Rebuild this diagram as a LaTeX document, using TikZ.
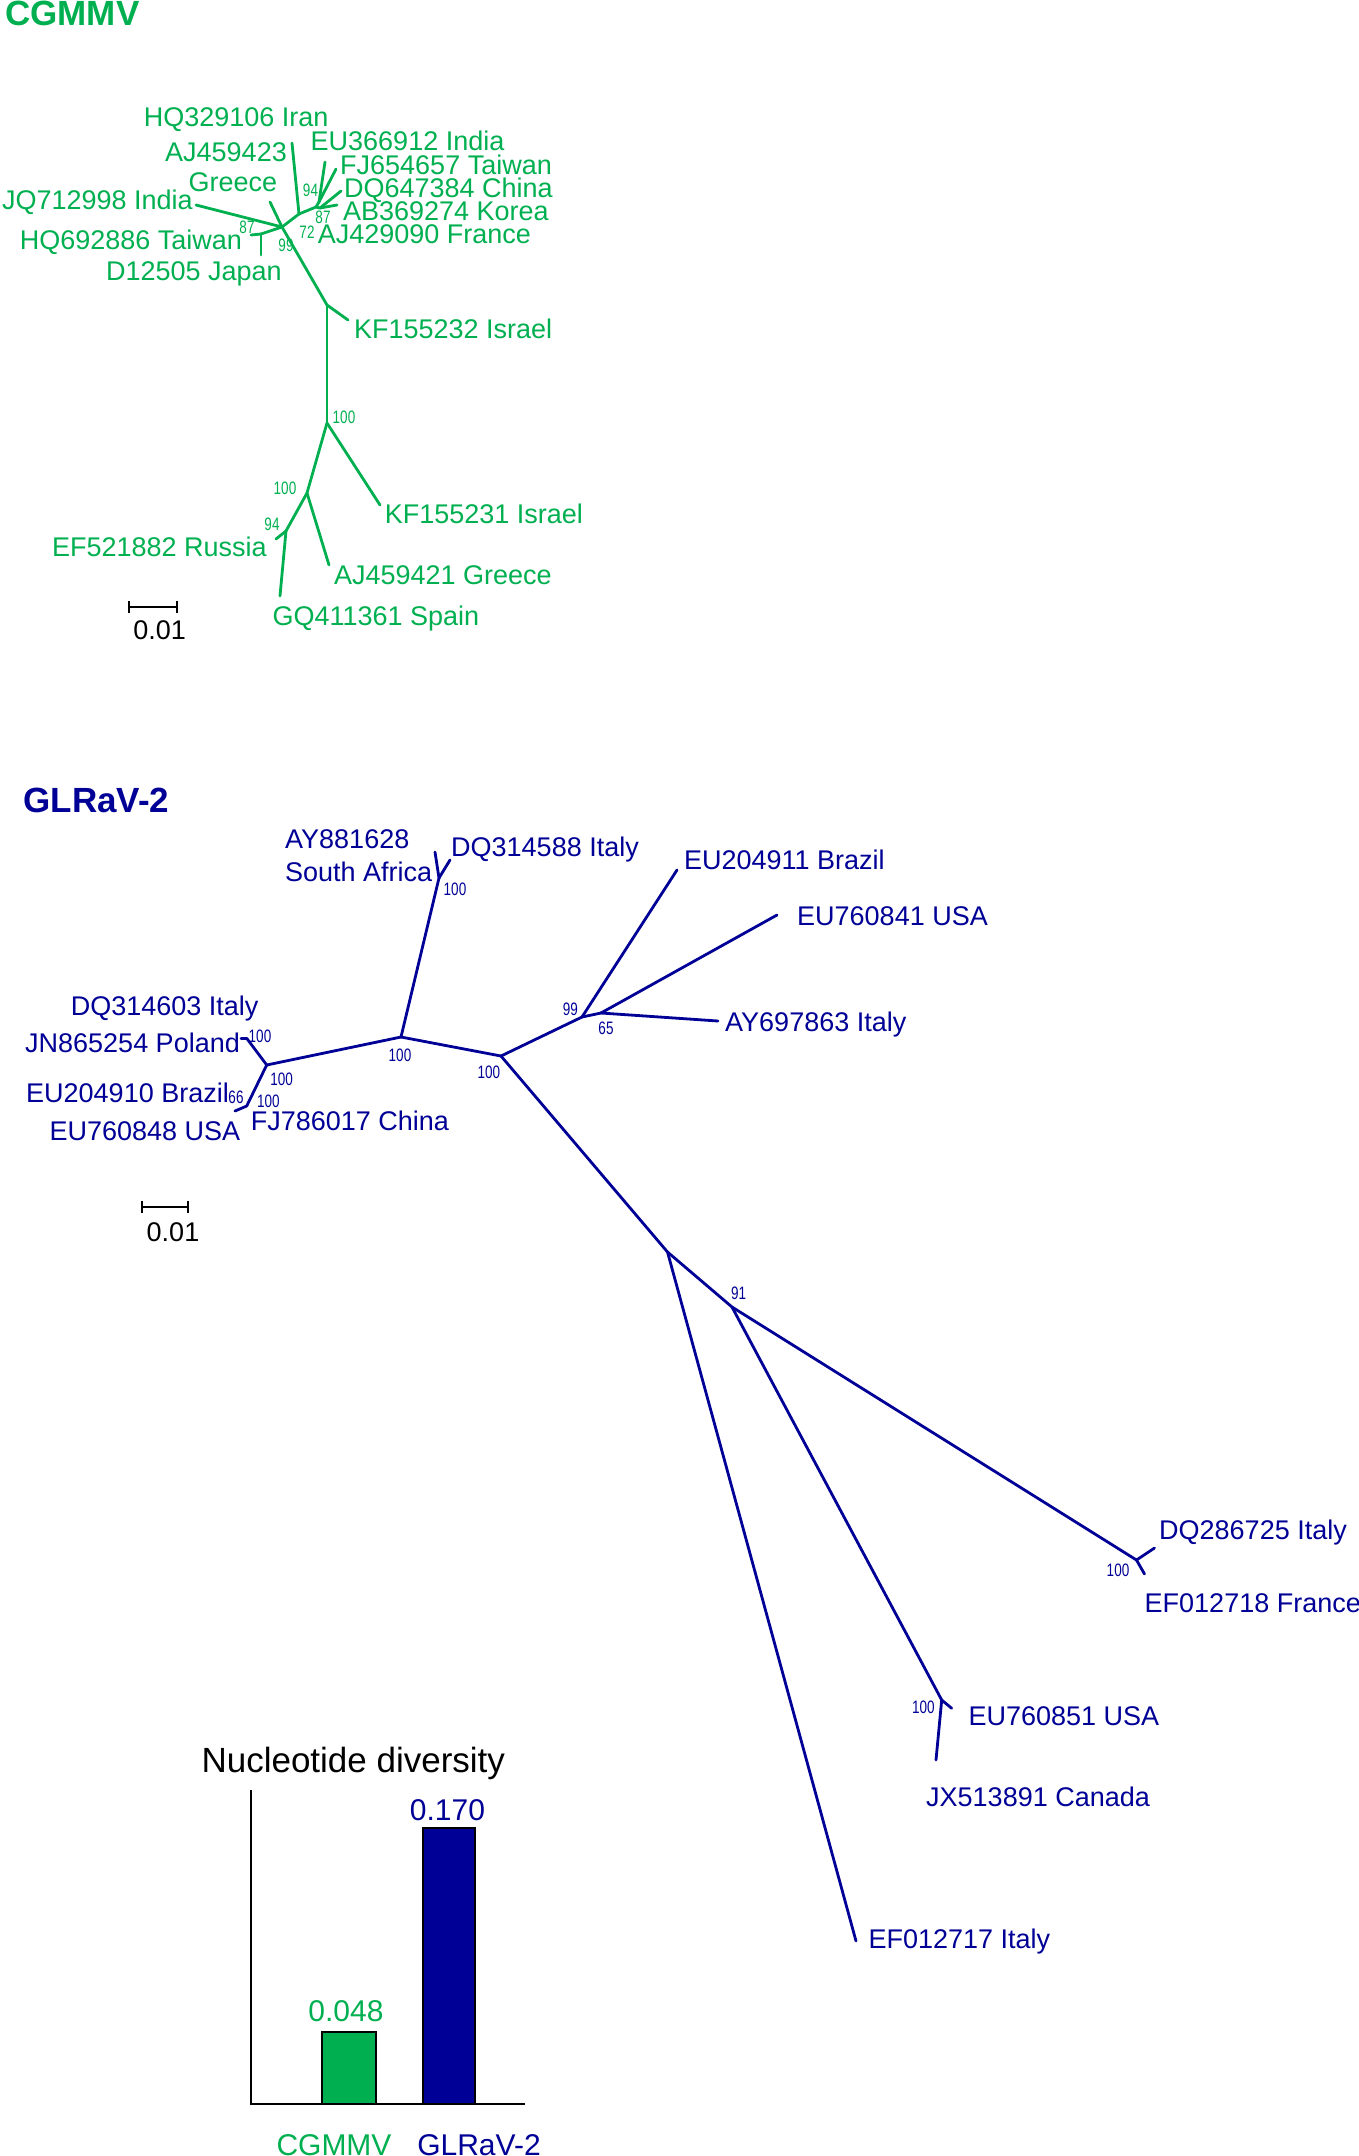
\documentclass[tikz,border=0pt]{standalone}
\usepackage{fontspec}
\setmainfont{Liberation Sans}
\usetikzlibrary{calc}
\definecolor{cg}{RGB}{0,176,80}
\definecolor{gl}{RGB}{0,0,150}
\newcommand\bsnum[1]{\scalebox{0.75}[1]{#1}}
\begin{document}
\begin{tikzpicture}[x=1pt,y=-1pt,
  br/.style={line width=2.8pt,line cap=round},
  lab/.style={anchor=west,inner sep=0pt,font=\fontsize{27}{32}\selectfont,text height=19.3pt,text depth=0pt},
  bs/.style={inner sep=0pt,font=\fontsize{18}{20}\selectfont,text height=12.9pt,text depth=0pt},
  ttl/.style={anchor=west,inner sep=0pt,font=\fontsize{35}{40}\selectfont\bfseries,text height=25pt,text depth=0pt},
  ctxt/.style={inner sep=0pt,font=\fontsize{30}{36}\selectfont,text height=21.5pt,text depth=0pt},
  sbar/.style={line width=2pt,black},
  barbox/.style={draw=black,line width=2.2pt}]
\useasboundingbox (0,0) rectangle (1358,2156);

%% ---------------- CGMMV ----------------
\node[ttl,text=cg] (t1) at (5,12.5) {CGMMV};
\coordinate (cA) at (282,227);
\coordinate (cB) at (261,234);
\coordinate (hq69) at (251,235);
\coordinate (d125) at (261,255);
\coordinate (jq) at (196,205);
\coordinate (aj23) at (270,202);
\coordinate (cC) at (299,214);
\coordinate (hq32) at (292,143);
\coordinate (cD) at (316,207);
\coordinate (n94) at (319,202);
\coordinate (eu36) at (325,162);
\coordinate (fj65) at (336,169);
\coordinate (n87) at (320,208);
\coordinate (dq64) at (341,191);
\coordinate (ab36) at (337,205);
\coordinate (cE) at (327,305);
\coordinate (kf32) at (348,320);
\coordinate (cF) at (327,423);
\coordinate (kf31) at (380,505);
\coordinate (cG) at (307,493);
\coordinate (aj21) at (329,565);
\coordinate (cH) at (286,531);
\coordinate (ef21) at (276,539);
\coordinate (gq) at (280,596);

\begin{scope}[cg,br]
\draw (cA) -- (jq);
\draw (cA) -- (cB);
\draw (cB) -- (hq69);
\draw (cB) -- (d125);
\draw (cA) -- (aj23);
\draw (cA) -- (cC);
\draw (cC) -- (hq32);
\draw (cC) -- (cD);
\draw (cD) -- (n94);
\draw (n94) -- (eu36);
\draw (n94) -- (fj65);
\draw (cD) -- (n87);
\draw (n87) -- (dq64);
\draw (n87) -- (ab36);
\draw (cA) -- (cE);
\draw (cE) -- (kf32);
\draw (cE) -- (cF);
\draw (cF) -- (kf31);
\draw (cF) -- (cG);
\draw (cG) -- (aj21);
\draw (cG) -- (cH);
\draw (cH) -- (ef21);
\draw (cH) -- (gq);
\end{scope}

\begin{scope}[every node/.append style={text=cg}]
\node[lab] (l1) at (143.6,116.7) {HQ329106 Iran};
\node[lab] (l2) at (165,151.7) {AJ459423};
\node[lab] (l3) at (188.4,181.7) {Greece};
\node[lab] (l4) at (1.8,200) {JQ712998 India};
\node[lab] (l5) at (19.7,240) {HQ692886 Taiwan};
\node[lab] (l6) at (105.9,270.7) {D12505 Japan};
\node[lab] (l7) at (310.5,140.7) {EU366912 India};
\node[lab] (l8) at (340,165) {FJ654657 Taiwan};
\node[lab] (l9) at (343.9,188.3) {DQ647384 China};
\node[lab] (l10) at (342.8,211) {AB369274 Korea};
\node[lab] (l11) at (317.7,234) {AJ429090 France};
\node[lab] (l12) at (353.8,329.3) {KF155232 Israel};
\node[lab] (l13) at (384.6,514.3) {KF155231 Israel};
\node[lab] (l14) at (51.9,546.7) {EF521882 Russia};
\node[lab] (l15) at (333.8,575) {AJ459421 Greece};
\node[lab] (l16) at (272.3,616) {GQ411361 Spain};
\node[bs] (b1) at (247,227) {\bsnum{87}};
\node[bs] (b2) at (286,245) {\bsnum{99}};
\node[bs] (b3) at (307,232) {\bsnum{72}};
\node[bs] (b4) at (310.5,190) {\bsnum{94}};
\node[bs] (b5) at (323,217) {\bsnum{87}};
\node[bs] (b6) at (344,417) {\bsnum{100}};
\node[bs] (b7) at (285,488) {\bsnum{100}};
\node[bs] (b8) at (272,524) {\bsnum{94}};
\end{scope}

\coordinate (sb1a) at (129,607);
\coordinate (sb1b) at (177,607);
\draw[sbar] (sb1a) -- (sb1b);
\draw[sbar] ($(sb1a)+(0,-6)$) -- ($(sb1a)+(0,6)$);
\draw[sbar] ($(sb1b)+(0,-6)$) -- ($(sb1b)+(0,6)$);
\node[lab,anchor=center] (s1) at (159.6,630) {0.01};

%% ---------------- GLRaV-2 ----------------
\node[ttl,text=gl] (t2) at (23.3,800) {GLRaV-2};
\coordinate (gY) at (439,878);
\coordinate (ay88) at (435,852);
\coordinate (dq88) at (450,860);
\coordinate (gP) at (401,1037);
\coordinate (gQ) at (266.7,1065);
\coordinate (gR) at (246.7,1038.3);
\coordinate (jn) at (241,1038.3);
\coordinate (gS) at (246.7,1106);
\coordinate (eu48) at (235,1111);
\coordinate (gT) at (501,1056);
\coordinate (gU) at (582,1017);
\coordinate (eu11) at (677,870);
\coordinate (gV) at (601,1013);
\coordinate (eu41) at (777,915);
\coordinate (ay63) at (718,1021);
\coordinate (gW) at (667.5,1252);
\coordinate (gX) at (732,1307);
\coordinate (gY2) at (1136.5,1560);
\coordinate (dq25) at (1154.5,1548);
\coordinate (ef18) at (1144.5,1574);
\coordinate (gZ) at (941.7,1700);
\coordinate (eu51) at (951.7,1708.3);
\coordinate (jx) at (936,1760);
\coordinate (ef17) at (856,1941);

\begin{scope}[gl,br]
\draw (gY) -- (ay88);
\draw (gY) -- (dq88);
\draw (gY) -- (gP);
\draw (gP) -- (gQ);
\draw (gQ) -- (gR);
\draw (gR) -- (jn);
\draw (gQ) -- (gS);
\draw (gS) -- (eu48);
\draw (gP) -- (gT);
\draw (gT) -- (gU);
\draw (gU) -- (eu11);
\draw (gU) -- (gV);
\draw (gV) -- (eu41);
\draw (gV) -- (ay63);
\draw (gT) -- (gW);
\draw (gW) -- (gX);
\draw (gX) -- (gY2);
\draw (gY2) -- (dq25);
\draw (gY2) -- (ef18);
\draw (gX) -- (gZ);
\draw (gZ) -- (eu51);
\draw (gZ) -- (jx);
\draw (gW) -- (ef17);
\end{scope}

\begin{scope}[every node/.append style={text=gl}]
\node[lab] (m1) at (285,839.3) {AY881628};
\node[lab] (m2) at (285,871.7) {South Africa};
\node[lab] (m3) at (451,846.7) {DQ314588 Italy};
\node[lab] (m4) at (683.8,860) {EU204911 Brazil};
\node[lab] (m5) at (797,915.4) {EU760841 USA};
\node[lab] (m6) at (725,1021.7) {AY697863 Italy};
\node[lab] (m7) at (70.7,1006) {DQ314603 Italy};
\node[lab] (m8) at (25,1042.7) {JN865254 Poland};
\node[lab] (m9) at (26,1093.3) {EU204910 Brazil};
\node[lab] (m10) at (49.3,1130.7) {EU760848 USA};
\node[lab] (m11) at (250.7,1120.7) {FJ786017 China};
\node[lab] (m12) at (1159,1530) {DQ286725 Italy};
\node[lab] (m13) at (1144.5,1602.7) {EF012718 France};
\node[lab] (m14) at (968.3,1716) {EU760851 USA};
\node[lab] (m15) at (926,1796.7) {JX513891 Canada};
\node[lab] (m16) at (868.3,1939.3) {EF012717 Italy};
\node[bs] (c1) at (455,889) {\bsnum{100}};
\node[bs] (c2) at (400,1055) {\bsnum{100}};
\node[bs] (c3) at (260,1036) {\bsnum{100}};
\node[bs] (c4) at (281.7,1079.3) {\bsnum{100}};
\node[bs] (c5) at (236,1097) {\bsnum{66}};
\node[bs] (c6) at (268.3,1100.7) {\bsnum{100}};
\node[bs] (c7) at (488.8,1071.7) {\bsnum{100}};
\node[bs] (c8) at (570.4,1009) {\bsnum{99}};
\node[bs] (c9) at (606,1028.3) {\bsnum{65}};
\node[bs] (c10) at (738.6,1292.7) {\bsnum{91}};
\node[bs] (c11) at (1118,1570) {\bsnum{100}};
\node[bs] (c12) at (923.3,1706.7) {\bsnum{100}};
\end{scope}

\coordinate (sb2a) at (141.6,1207);
\coordinate (sb2b) at (188.3,1207);
\draw[sbar] (sb2a) -- (sb2b);
\draw[sbar] ($(sb2a)+(0,-6)$) -- ($(sb2a)+(0,6)$);
\draw[sbar] ($(sb2b)+(0,-6)$) -- ($(sb2b)+(0,6)$);
\node[lab,anchor=center] (s2) at (173,1231.5) {0.01};

%% ---------------- Bar chart ----------------
\node[ctxt,font=\fontsize{35}{40}\selectfont,text height=25pt] (nd) at (353.3,1760) {Nucleotide diversity};
\coordinate (ax0) at (251,2104);
\coordinate (axy) at (251,1790);
\coordinate (axx) at (525,2104);
\draw[black,line width=2.5pt] (axy) -- (ax0) -- (axx);
\draw[barbox,fill=cg] (321.7,2104) rectangle (376,2031.7);
\draw[barbox,fill=gl] (423.3,2104) rectangle (475,1828.3);
\node[ctxt,text=cg] (v1) at (346,2010.7) {0.048};
\node[ctxt,text=gl] (v2) at (447.5,1810) {0.170};
\node[ctxt,text=cg] (x1) at (334,2145) {CGMMV};
\node[ctxt,text=gl] (x2) at (479,2145) {GLRaV-2};
\end{tikzpicture}
\end{document}
